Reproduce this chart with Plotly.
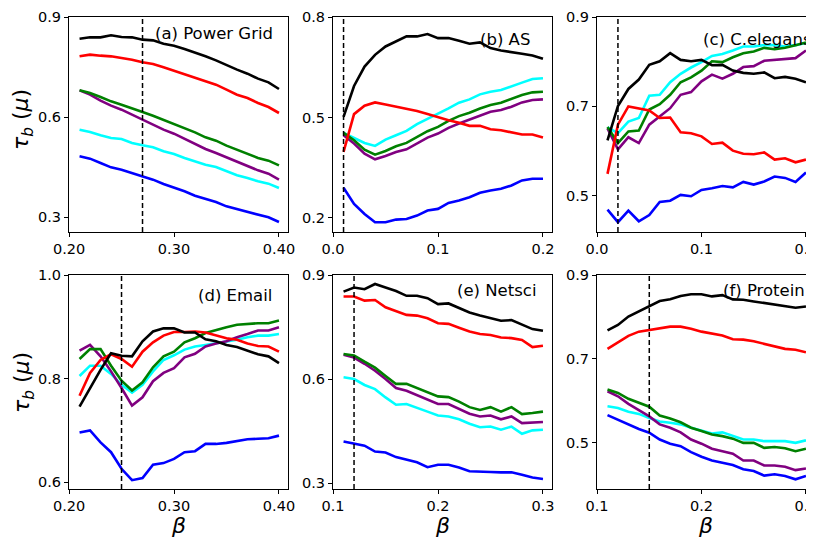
import plotly.graph_objects as go

# ---------------- data ----------------
beta_a = [0.21, 0.22, 0.23, 0.24, 0.25, 0.26, 0.27, 0.28, 0.29, 0.30,
          0.31, 0.32, 0.33, 0.34, 0.35, 0.36, 0.37, 0.38, 0.39, 0.40]
beta_b = [0.01, 0.02, 0.03, 0.04, 0.05, 0.06, 0.07, 0.08, 0.09, 0.10,
          0.11, 0.12, 0.13, 0.14, 0.15, 0.16, 0.17, 0.18, 0.19, 0.20]
beta_e = [0.11, 0.12, 0.13, 0.14, 0.15, 0.16, 0.17, 0.18, 0.19, 0.20,
          0.21, 0.22, 0.23, 0.24, 0.25, 0.26, 0.27, 0.28, 0.29, 0.30]

# (a) Power Grid
a_black = [0.835, 0.839, 0.839, 0.845, 0.840, 0.839, 0.832, 0.830, 0.820, 0.814,
           0.804, 0.794, 0.782, 0.770, 0.755, 0.742, 0.730, 0.715, 0.704, 0.684]
a_red = [0.782, 0.787, 0.784, 0.782, 0.777, 0.772, 0.764, 0.759, 0.749, 0.739,
         0.729, 0.719, 0.707, 0.697, 0.682, 0.667, 0.657, 0.642, 0.630, 0.612]
a_green = [0.680, 0.672, 0.660, 0.647, 0.637, 0.627, 0.615, 0.604, 0.592, 0.580,
           0.567, 0.554, 0.539, 0.529, 0.514, 0.502, 0.490, 0.477, 0.469, 0.455]
a_purple = [0.680, 0.667, 0.649, 0.634, 0.622, 0.607, 0.590, 0.577, 0.562, 0.550,
            0.534, 0.519, 0.504, 0.492, 0.479, 0.465, 0.452, 0.440, 0.430, 0.412]
a_cyan = [0.562, 0.555, 0.545, 0.537, 0.534, 0.522, 0.515, 0.509, 0.497, 0.489,
          0.477, 0.467, 0.457, 0.450, 0.437, 0.425, 0.417, 0.407, 0.400, 0.387]
a_blue = [0.482, 0.475, 0.462, 0.449, 0.442, 0.432, 0.422, 0.412, 0.399, 0.389,
          0.377, 0.364, 0.354, 0.345, 0.332, 0.324, 0.315, 0.307, 0.299, 0.285]

# (b) AS
b_black = [0.502, 0.594, 0.652, 0.687, 0.712, 0.727, 0.742, 0.742, 0.749, 0.737,
           0.737, 0.729, 0.720, 0.724, 0.707, 0.700, 0.694, 0.690, 0.685, 0.675]
b_red = [0.397, 0.510, 0.535, 0.545, 0.539, 0.532, 0.527, 0.519, 0.510, 0.500,
         0.492, 0.484, 0.475, 0.475, 0.465, 0.462, 0.455, 0.449, 0.449, 0.440]
b_green = [0.454, 0.432, 0.404, 0.389, 0.400, 0.414, 0.424, 0.442, 0.459, 0.472,
           0.490, 0.504, 0.514, 0.527, 0.537, 0.544, 0.555, 0.567, 0.575, 0.577]
b_purple = [0.447, 0.422, 0.392, 0.375, 0.385, 0.397, 0.405, 0.422, 0.440, 0.452,
            0.469, 0.482, 0.494, 0.507, 0.517, 0.522, 0.532, 0.545, 0.552, 0.554]
b_cyan = [0.454, 0.439, 0.424, 0.415, 0.434, 0.447, 0.460, 0.480, 0.495, 0.510,
          0.527, 0.544, 0.554, 0.569, 0.577, 0.582, 0.592, 0.604, 0.615, 0.617]
b_blue = [0.290, 0.242, 0.212, 0.187, 0.187, 0.195, 0.197, 0.207, 0.222, 0.227,
          0.245, 0.252, 0.262, 0.275, 0.282, 0.287, 0.297, 0.312, 0.317, 0.317]

# (c) C.elegans
c_black = [0.624, 0.701, 0.739, 0.760, 0.793, 0.801, 0.819, 0.804, 0.801, 0.804,
           0.792, 0.793, 0.780, 0.775, 0.773, 0.776, 0.763, 0.766, 0.762, 0.754]
c_red = [0.549, 0.659, 0.700, 0.696, 0.691, 0.674, 0.675, 0.642, 0.640, 0.633,
         0.616, 0.619, 0.601, 0.594, 0.593, 0.597, 0.581, 0.584, 0.575, 0.581]
c_green = [0.654, 0.618, 0.644, 0.646, 0.693, 0.705, 0.726, 0.754, 0.765, 0.780,
           0.801, 0.799, 0.810, 0.819, 0.823, 0.831, 0.828, 0.831, 0.837, 0.843]
c_purple = [0.651, 0.604, 0.631, 0.618, 0.659, 0.678, 0.696, 0.726, 0.732, 0.756,
            0.771, 0.762, 0.773, 0.788, 0.790, 0.802, 0.804, 0.807, 0.808, 0.825]
c_cyan = [0.653, 0.640, 0.666, 0.674, 0.724, 0.726, 0.754, 0.773, 0.787, 0.799,
          0.813, 0.817, 0.825, 0.834, 0.834, 0.837, 0.837, 0.834, 0.837, 0.842]
c_blue = [0.469, 0.441, 0.467, 0.443, 0.457, 0.486, 0.489, 0.502, 0.499, 0.513,
          0.517, 0.522, 0.519, 0.531, 0.525, 0.532, 0.543, 0.540, 0.531, 0.552]

# (d) Email
d_black = [0.746, 0.782, 0.817, 0.849, 0.844, 0.843, 0.872, 0.891, 0.897, 0.897,
           0.889, 0.889, 0.876, 0.872, 0.865, 0.861, 0.854, 0.847, 0.843, 0.830]
d_red = [0.767, 0.811, 0.836, 0.847, 0.838, 0.823, 0.852, 0.870, 0.883, 0.890,
         0.890, 0.891, 0.889, 0.884, 0.878, 0.875, 0.868, 0.863, 0.862, 0.852]
d_green = [0.838, 0.857, 0.857, 0.825, 0.796, 0.777, 0.793, 0.822, 0.843, 0.852,
           0.870, 0.878, 0.888, 0.894, 0.899, 0.904, 0.906, 0.907, 0.907, 0.912]
d_purple = [0.854, 0.865, 0.843, 0.814, 0.782, 0.748, 0.764, 0.795, 0.811, 0.820,
            0.841, 0.848, 0.862, 0.868, 0.872, 0.880, 0.886, 0.893, 0.893, 0.899]
d_cyan = [0.805, 0.825, 0.825, 0.809, 0.788, 0.773, 0.788, 0.814, 0.836, 0.845,
          0.856, 0.862, 0.865, 0.868, 0.872, 0.875, 0.880, 0.883, 0.883, 0.886]
d_blue = [0.696, 0.700, 0.677, 0.658, 0.626, 0.604, 0.608, 0.634, 0.637, 0.645,
          0.658, 0.660, 0.674, 0.674, 0.676, 0.679, 0.683, 0.684, 0.685, 0.690]

# (e) Netsci
e_black = [0.852, 0.864, 0.859, 0.874, 0.864, 0.854, 0.840, 0.840, 0.833, 0.816,
           0.818, 0.804, 0.792, 0.783, 0.775, 0.768, 0.770, 0.758, 0.744, 0.739]
e_red = [0.838, 0.838, 0.826, 0.828, 0.807, 0.797, 0.785, 0.783, 0.775, 0.761,
         0.759, 0.748, 0.737, 0.730, 0.727, 0.720, 0.718, 0.713, 0.692, 0.696]
e_green = [0.672, 0.668, 0.650, 0.633, 0.609, 0.586, 0.586, 0.574, 0.561, 0.550,
           0.548, 0.535, 0.519, 0.511, 0.519, 0.506, 0.519, 0.499, 0.502, 0.506]
e_purple = [0.670, 0.662, 0.644, 0.624, 0.600, 0.574, 0.566, 0.554, 0.540, 0.528,
            0.528, 0.514, 0.500, 0.492, 0.495, 0.484, 0.492, 0.473, 0.475, 0.476]
e_cyan = [0.605, 0.600, 0.583, 0.571, 0.547, 0.526, 0.528, 0.518, 0.506, 0.495,
          0.492, 0.484, 0.471, 0.461, 0.463, 0.454, 0.463, 0.442, 0.452, 0.454]
e_blue = [0.420, 0.413, 0.408, 0.391, 0.388, 0.375, 0.367, 0.360, 0.346, 0.353,
          0.353, 0.345, 0.334, 0.334, 0.332, 0.331, 0.331, 0.324, 0.316, 0.312]

# (f) Protein
f_black = [0.768, 0.781, 0.801, 0.814, 0.826, 0.838, 0.842, 0.850, 0.854, 0.854,
           0.849, 0.852, 0.842, 0.841, 0.837, 0.833, 0.830, 0.826, 0.822, 0.825]
f_red = [0.724, 0.739, 0.755, 0.765, 0.769, 0.773, 0.777, 0.777, 0.772, 0.765,
         0.761, 0.756, 0.747, 0.746, 0.742, 0.736, 0.730, 0.724, 0.722, 0.716]
f_green = [0.627, 0.619, 0.605, 0.595, 0.586, 0.565, 0.558, 0.549, 0.536, 0.528,
           0.520, 0.516, 0.510, 0.500, 0.500, 0.488, 0.490, 0.487, 0.480, 0.486]
f_purple = [0.623, 0.611, 0.593, 0.577, 0.563, 0.544, 0.536, 0.525, 0.508, 0.498,
            0.486, 0.480, 0.474, 0.458, 0.458, 0.446, 0.446, 0.443, 0.435, 0.439]
f_cyan = [0.587, 0.583, 0.574, 0.569, 0.559, 0.551, 0.548, 0.544, 0.536, 0.529,
          0.522, 0.525, 0.516, 0.508, 0.508, 0.504, 0.504, 0.504, 0.500, 0.506]
f_blue = [0.566, 0.555, 0.544, 0.533, 0.524, 0.508, 0.498, 0.492, 0.478, 0.467,
          0.458, 0.452, 0.447, 0.437, 0.433, 0.422, 0.425, 0.421, 0.413, 0.421]

panel_titles = ["(a) Power Grid", "(b) AS", "(c) C.elegans",
                "(d) Email", "(e) Netsci", "(f) Protein"]
critical_beta = [0.27, 0.01, 0.02, 0.25, 0.12, 0.15]

xtick_vals_a = [0.20, 0.30, 0.40]
xtick_text_a = ["0.20", "0.30", "0.40"]
xtick_vals_b = [0.0, 0.1, 0.2]
xtick_text_b = ["0.0", "0.1", "0.2"]
xtick_vals_e = [0.1, 0.2, 0.3]
xtick_text_e = ["0.1", "0.2", "0.3"]

ytick_a = [0.3, 0.6, 0.9]
ytick_b = [0.2, 0.5, 0.8]
ytick_c = [0.5, 0.7, 0.9]
ytick_d = [0.6, 0.8, 1.0]
ytick_e = [0.3, 0.6, 0.9]
ytick_f = [0.5, 0.7, 0.9]

series_colors = ["#0000ff", "#00ffff", "#800080", "#008000", "#ff0000", "#000000"]

panels = [
    (beta_a, [a_blue, a_cyan, a_purple, a_green, a_red, a_black]),
    (beta_b, [b_blue, b_cyan, b_purple, b_green, b_red, b_black]),
    (beta_b, [c_blue, c_cyan, c_purple, c_green, c_red, c_black]),
    (beta_a, [d_blue, d_cyan, d_purple, d_green, d_red, d_black]),
    (beta_e, [e_blue, e_cyan, e_purple, e_green, e_red, e_black]),
    (beta_e, [f_blue, f_cyan, f_purple, f_green, f_red, f_black]),
]

# ---------------- layout geometry ----------------
# The page body has a default 8px margin, so the figure starts at (8, 8)
# of the 814x539 window; window pixel positions are converted accordingly.
OFF = 8
W, H = 814 - OFF, 539 - OFF


def px_x(px):
    return (px - OFF) / W


def px_y(py):
    return 1 - (py - OFF) / H


col_px = [(69, 288), (333, 552), (597, 814)]
row_px = [(17, 232), (275, 489)]

xranges = [[0.19995, 0.4086], [-0.00005, 0.2086], [-0.00005, 0.2077],
           [0.19995, 0.4086], [0.09995, 0.3086], [0.09995, 0.3077]]
yranges = [[0.255, 0.9], [0.158, 0.8], [0.419, 0.9],
           [0.587, 1.0], [0.283, 0.9], [0.39, 0.9]]
xticks = [(xtick_vals_a, xtick_text_a), (xtick_vals_b, xtick_text_b), (xtick_vals_b, xtick_text_b),
          (xtick_vals_a, xtick_text_a), (xtick_vals_e, xtick_text_e), (xtick_vals_e, xtick_text_e)]
yticks = [ytick_a, ytick_b, ytick_c, ytick_d, ytick_e, ytick_f]

FONT = "DejaVu Sans"
fig = go.Figure()
layout = dict(width=W, height=H, margin=dict(l=0, r=0, t=0, b=0, autoexpand=False),
              paper_bgcolor="white", plot_bgcolor="white", showlegend=False,
              font=dict(family=FONT, color="black", size=14))
shapes = []
annotations = []

for i, (xs, ys_list) in enumerate(panels):
    r, c = divmod(i, 3)
    n = i + 1
    xa = "x" if n == 1 else f"x{n}"
    ya = "y" if n == 1 else f"y{n}"
    for ys, col in zip(ys_list, series_colors):
        fig.add_trace(go.Scatter(x=xs, y=ys, mode="lines", xaxis=xa, yaxis=ya,
                                 line=dict(color=col, width=2.6), hoverinfo="skip"))
    x0, x1 = col_px[c]
    y0, y1 = row_px[r]
    axcommon = dict(showline=True, mirror=True, linecolor="black", linewidth=1,
                    ticks="outside", ticklen=4, tickwidth=1, tickcolor="black",
                    showgrid=False, zeroline=False, automargin=False,
                    ticklabeloverflow="allow",
                    tickfont=dict(family=FONT, size=14.5, color="black"))
    layout["xaxis" if n == 1 else f"xaxis{n}"] = dict(
        domain=[px_x(x0), min(1.0, px_x(x1))], range=xranges[i], anchor=ya,
        tickvals=xticks[i][0], ticktext=xticks[i][1], **axcommon)
    layout["yaxis" if n == 1 else f"yaxis{n}"] = dict(
        domain=[px_y(y1), px_y(y0)], range=yranges[i], anchor=xa,
        tickvals=yticks[i], ticktext=[f"{v:.1f}" for v in yticks[i]], **axcommon)
    shapes.append(dict(type="line", xref=xa, yref=f"{ya} domain",
                       x0=critical_beta[i], x1=critical_beta[i], y0=0, y1=1,
                       line=dict(color="black", width=1.5, dash="5px,3px")))

title_pos = [(275, 34), (532, 40), (813, 40), (274, 295), (539, 290), (807, 290)]
for t, (px, py) in zip(panel_titles, title_pos):
    annotations.append(dict(text=t, xref="paper", yref="paper", x=px_x(px), y=px_y(py),
                            xanchor="right", yanchor="middle", showarrow=False,
                            font=dict(family=FONT, size=16.5, color="black")))

ylab = "<i>τ</i><sub><i>b</i></sub> (<i>μ</i>)"
for cy in (120, 383):
    annotations.append(dict(text=ylab, xref="paper", yref="paper", x=px_x(23), y=px_y(cy),
                            xanchor="center", yanchor="middle", textangle=-90, showarrow=False,
                            font=dict(family=FONT, size=22, color="black")))
for (x0, x1) in col_px:
    annotations.append(dict(text="<i>β</i>", xref="paper", yref="paper",
                            x=px_x((x0 + x1) / 2), y=px_y(525),
                            xanchor="center", yanchor="middle", showarrow=False,
                            font=dict(family=FONT, size=22, color="black")))

layout["shapes"] = shapes
layout["annotations"] = annotations
fig.update_layout(**layout)
fig.write_html("out.html")
